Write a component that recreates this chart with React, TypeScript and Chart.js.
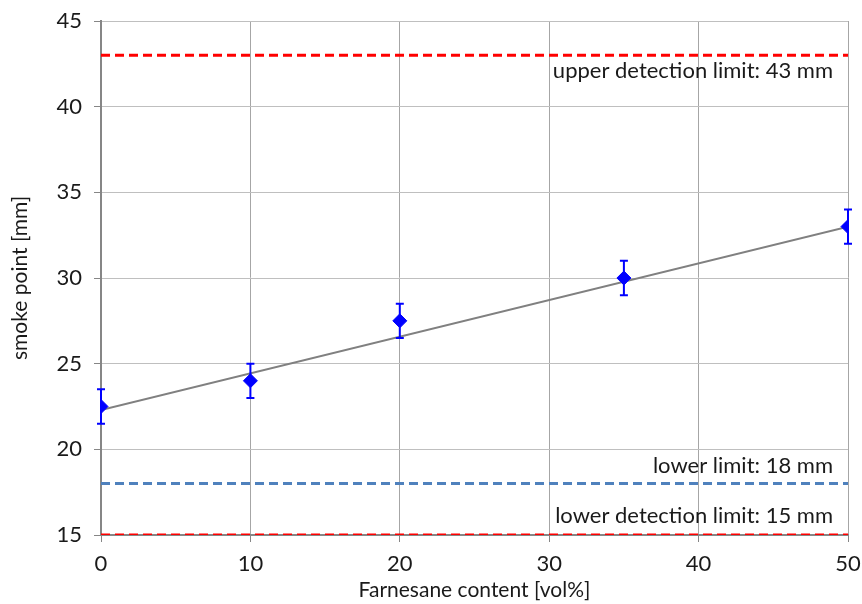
import React, { useEffect, useRef } from "react";
import { Chart, registerables } from "chart.js";

Chart.register(...registerables);

const farnesane = [0, 10, 20, 35, 50];
const smokePoint = [22.5, 24, 27.5, 30, 33];
const errors = [1, 1, 1, 1, 1];
const trendX = [0, 50];
const trendY = [22.3, 33.0];
const upperDetection = 43;
const lowerLimit = 18;
const lowerDetection = 15;
const limitLabels = ["upper detection limit: 43 mm", "lower limit: 18 mm", "lower detection limit: 15 mm"];
const xTicks = [0, 10, 20, 30, 40, 50];
const yTicks = [15, 20, 25, 30, 35, 40, 45];

const FONT = "Lato, 'Open Sans', sans-serif";

export default function App() {
  const ref = useRef<HTMLCanvasElement>(null);
  useEffect(() => {
    if (!ref.current) return;
    const errPlugin = {
      id: "errbars",
      afterDatasetsDraw(chart: any) {
        const ctx = chart.ctx;
        const xs = chart.scales.x;
        const ys = chart.scales.y;
        ctx.save();
        ctx.strokeStyle = "#0000FF";
        ctx.lineWidth = 2;
        farnesane.forEach((x, i) => {
          const px = xs.getPixelForValue(x);
          const top = ys.getPixelForValue(smokePoint[i] + errors[i]);
          const bot = ys.getPixelForValue(smokePoint[i] - errors[i]);
          ctx.beginPath();
          ctx.moveTo(px, top);
          ctx.lineTo(px, bot);
          ctx.moveTo(px - 4, top);
          ctx.lineTo(px + 4, top);
          ctx.moveTo(px - 4, bot);
          ctx.lineTo(px + 4, bot);
          ctx.stroke();
        });
        // limit labels
        ctx.fillStyle = "#1a1a1a";
        ctx.font = `22px ${FONT}`;
        ctx.textAlign = "right";
        ctx.textBaseline = "middle";
        const rx = xs.getPixelForValue(50) - 15;
        ctx.fillText(limitLabels[0], rx, ys.getPixelForValue(upperDetection) + 16);
        ctx.fillText(limitLabels[1], rx, ys.getPixelForValue(lowerLimit) - 18);
        ctx.fillText(limitLabels[2], rx, ys.getPixelForValue(lowerDetection) - 19);
        ctx.restore();
      },
    };
    const hline = (v: number, color: string, label: string) => ({
      label,
      type: "line" as const,
      data: [{ x: 0, y: v }, { x: 50, y: v }],
      borderColor: color,
      borderWidth: 3,
      borderDash: [9, 5],
      pointRadius: 0,
      showLine: true,
      order: 3,
    });
    const chart = new Chart(ref.current, {
      type: "scatter",
      data: {
        datasets: [
          {
            label: "smoke point",
            data: farnesane.map((x, i) => ({ x, y: smokePoint[i] })),
            backgroundColor: "#0000FF",
            borderColor: "#0000FF",
            pointStyle: "rectRot",
            pointRadius: 7,
            pointHoverRadius: 7,
            order: 0,
          },
          {
            label: "trend",
            type: "line",
            data: trendX.map((x, i) => ({ x, y: trendY[i] })),
            borderColor: "#808080",
            borderWidth: 2,
            pointRadius: 0,
            showLine: true,
            order: 1,
          },
          hline(upperDetection, "#FF0000", "upper"),
          hline(lowerLimit, "#4F81BD", "lower"),
          hline(lowerDetection, "#FF0000", "lowerdet"),
        ],
      },
      options: {
        animation: false,
        responsive: false,
        maintainAspectRatio: false,
        layout: { padding: { top: 21, right: 14, left: 0, bottom: 0 } },
        plugins: { legend: { display: false }, tooltip: { enabled: false } },
        scales: {
          x: {
            type: "linear",
            min: 0,
            max: 50,
            afterBuildTicks: (s: any) => { s.ticks = xTicks.map((v) => ({ value: v })); },
            afterFit: (s: any) => { s.height = 69; s.paddingLeft = 0; s.paddingRight = 0; },
            grid: { color: "#A6A6A6", lineWidth: 1, tickLength: 7, tickColor: "#868686" },
            border: { color: "#868686", width: 2 },
            ticks: { color: "#1a1a1a", font: { family: FONT, size: 22 }, padding: 9, maxRotation: 0 },
            title: { display: true, text: "Farnesane content [vol%]", color: "#1a1a1a", font: { family: FONT, size: 21 }, padding: { top: 0, bottom: 1 } },
          },
          y: {
            type: "linear",
            min: 15,
            max: 45,
            afterBuildTicks: (s: any) => { s.ticks = yTicks.map((v) => ({ value: v })); },
            afterFit: (s: any) => { s.width = 101; s.paddingTop = 0; s.paddingBottom = 0; },
            grid: { color: "#BFBFBF", lineWidth: 1, tickLength: 7, tickColor: "#868686" },
            border: { color: "#868686", width: 2 },
            ticks: { color: "#1a1a1a", font: { family: FONT, size: 22 }, padding: 12 },
            title: { display: true, text: "smoke point [mm]", color: "#1a1a1a", font: { family: FONT, size: 21 }, padding: { top: 8, bottom: 4 } },
          },
        },
      },
      plugins: [errPlugin],
    } as any);
    return () => chart.destroy();
  }, []);
  return (
    <div style={{ position: "fixed", left: 0, top: 0, width: 862, height: 604, background: "#fff" }}>
      <canvas ref={ref} width={862} height={604} />
    </div>
  );
}
